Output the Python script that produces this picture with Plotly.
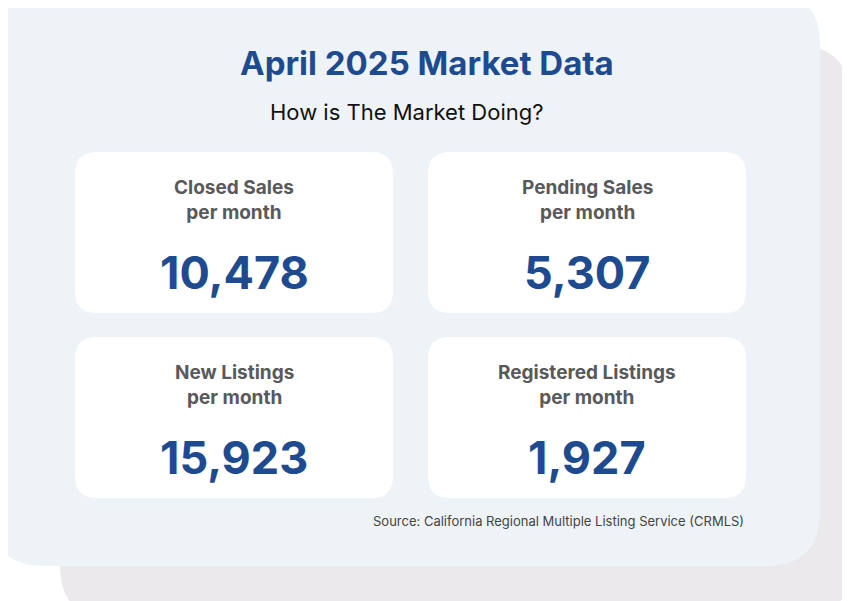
import plotly.graph_objects as go

# data
metric_names = ["Closed Sales", "Pending Sales", "New Listings", "Registered Listings"]
metric_units = ["per month", "per month", "per month", "per month"]
metric_values = [10478, 5307, 15923, 1927]
title_text = "April 2025 Market Data"
subtitle_text = "How is The Market Doing?"
source_text = "Source: California Regional Multiple Listing Service (CRMLS)"

W, H = 850, 601
OFF = 8  # page body margin, so data coords line up with window pixels
NAVY = "#1E4B8F"
GRAY = "#58595B"


def rounded(x0, y0, x1, y1, r):
    return (f"M{x0+r},{y0} L{x1-r},{y0} Q{x1},{y0} {x1},{y0+r} "
            f"L{x1},{y1-r} Q{x1},{y1} {x1-r},{y1} L{x0+r},{y1} "
            f"Q{x0},{y1} {x0},{y1-r} L{x0},{y0+r} Q{x0},{y0} {x0+r},{y0} Z")


shapes = [
    dict(type="path", path=rounded(60, 45, 850, 620, 55), fillcolor="#ECE9EC", line_width=0, layer="below"),
    dict(type="path", path=rounded(-10, -10, 820, 566, 55), fillcolor="#EEF3F8", line_width=0, layer="below"),
]
annotations = [
    dict(x=427, y=63, text=f"<b>{title_text}</b>", font=dict(size=33, color=NAVY)),
    dict(x=406, y=112, text=subtitle_text, font=dict(size=22, color="#111111")),
    dict(x=746, y=521, text=source_text, xanchor="right", font=dict(size=13, color="#444444")),
]

box_x = [(75, 393), (428, 746)]
box_y = [(152, 313), (337, 498)]
for i, (name, unit, val) in enumerate(zip(metric_names, metric_units, metric_values)):
    x0, x1 = box_x[i % 2]
    y0, y1 = box_y[i // 2]
    cx = (x0 + x1) / 2
    shapes.append(dict(type="path", path=rounded(x0, y0, x1, y1, 22), fillcolor="white", line_width=0, layer="below"))
    annotations.append(dict(x=cx, y=y0 + 48, text=f"<b>{name}<br>{unit}</b>",
                            font=dict(size=19, color=GRAY)))
    annotations.append(dict(x=cx, y=y0 + 120, text=f"<b>{val:,}</b>",
                            font=dict(size=45, color=NAVY)))

for a in annotations:
    a.update(xref="x", yref="y", showarrow=False)

fig = go.Figure()
fig.update_layout(
    width=W, height=H, margin=dict(l=0, r=0, t=0, b=0),
    paper_bgcolor="white", plot_bgcolor="white",
    font=dict(family="Inter, Lato, sans-serif"),
    xaxis=dict(range=[OFF, W + OFF], visible=False, fixedrange=True),
    yaxis=dict(range=[H + OFF, OFF], visible=False, fixedrange=True),
    shapes=shapes, annotations=annotations, showlegend=False,
)
fig.write_html("out.html")
